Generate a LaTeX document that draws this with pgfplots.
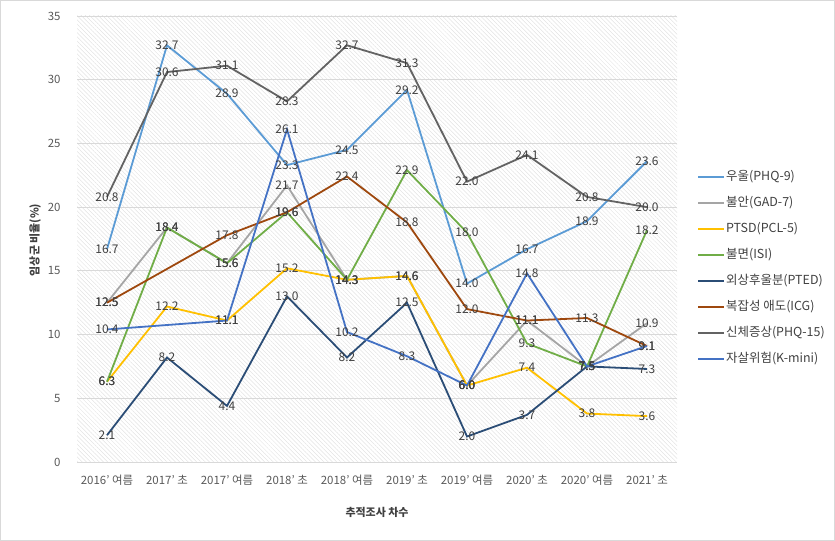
\documentclass[border=0pt]{standalone}
\usepackage{pgfplots}
\pgfplotsset{compat=1.18}
\usepackage{fontspec}
\setmainfont{Noto Sans CJK KR}
\usetikzlibrary{patterns.meta}

\definecolor{cDep}{HTML}{5B9BD5}
\definecolor{cAnx}{HTML}{A5A5A5}
\definecolor{cPtsd}{HTML}{FFC000}
\definecolor{cIns}{HTML}{70AD47}
\definecolor{cPted}{HTML}{2B4D76}
\definecolor{cIcg}{HTML}{9E480E}
\definecolor{cSom}{HTML}{636363}
\definecolor{cSui}{HTML}{4472C4}
\definecolor{txtdark}{HTML}{404040}
\definecolor{txttick}{HTML}{595959}
\definecolor{gridc}{HTML}{D9D9D9}

\begin{document}
\begin{tikzpicture}[x=1bp,y=1bp]
  \path[use as bounding box] (0,0) rectangle (835,541);
  \draw[gridc, line width=1.2bp] (0.6,0.6) rectangle (834.4,540.4);
  \begin{axis}[
      at={(77bp,79bp)}, anchor=south west,
      scale only axis,
      width=600bp, height=446bp,
      xmin=-0.5, xmax=9.5,
      ymin=0, ymax=35,
      xtick={0,...,9},
      xticklabels={2016' 여름, 2017' 초, 2017' 여름, 2018' 초, 2018' 여름,
                   2019' 초, 2019' 여름, 2020' 초, 2020' 여름, 2021' 초},
      ytick={0,5,...,35},
      axis line style={draw=none},
      major tick length=0pt,
      ymajorgrids,
      grid style={gridc, line width=0.8bp},
      axis background/.style={pattern={Lines[angle=-45, distance=3bp, line width=0.5bp]},
                              pattern color=black!11},
      tick label style={font=\fontsize{11.5}{13}\selectfont, text=txttick},
      xticklabel style={yshift=-10bp},
      yticklabel style={xshift=-13bp},
      /pgf/number format/assume math mode=true,
      ylabel={임상군 비율(\%)},
      xlabel={추적조사 차수},
      label style={font=\bfseries\fontsize{11}{13}\selectfont, text=txtdark},
      ylabel style={at={(axis description cs:-0.07,0.498)}, anchor=center, rotate=0},
      xlabel style={at={(axis description cs:0.5,-0.112)}, anchor=center},
      nodes near coords,
      point meta=y,
      nodes near coords={\pgfmathprintnumber[fixed, fixed zerofill, precision=1]{\pgfplotspointmeta}},
      every node near coord/.style={anchor=center, inner sep=0pt,
                                    font=\fontsize{12}{14}\selectfont, text=txtdark},
      every axis plot/.append style={line width=1.8bp, mark=none},
      legend cell align=left,
      legend image code/.code={\draw[#1, line width=2bp] (0bp,0bp) -- (26bp,0bp);},
      legend style={draw=none, fill=none, at={(1.0333,0.434)}, anchor=west,
                    inner sep=0pt, row sep=12bp,
                    font=\fontsize{12.5}{14}\selectfont, text=txtdark,
                    nodes={inner sep=1bp, text height=9bp, text depth=3bp}},
    ]
    % 우울(PHQ-9)
    \addplot[cDep] coordinates {
      (0,16.7) (1,32.7) (2,28.9) (3,23.3) (4,24.5)
      (5,29.2) (6,14.0) (7,16.7) (8,18.9) (9,23.6)
    };
    \addlegendentry{우울(PHQ-9)}
    % 불안(GAD-7)
    \addplot[cAnx] coordinates {
      (0,12.5) (1,18.4) (2,15.6) (3,21.7) (4,14.3)
      (5,14.6) (6,6.0) (7,11.1) (8,7.5) (9,10.9)
    };
    \addlegendentry{불안(GAD-7)}
    % PTSD(PCL-5)
    \addplot[cPtsd] coordinates {
      (0,6.3) (1,12.2) (2,11.1) (3,15.2) (4,14.3)
      (5,14.6) (6,6.0) (7,7.4) (8,3.8) (9,3.6)
    };
    \addlegendentry{PTSD(PCL-5)}
    % 불면(ISI)
    \addplot[cIns] coordinates {
      (0,6.3) (1,18.4) (2,15.6) (3,19.6) (4,14.3)
      (5,22.9) (6,18.0) (7,9.3) (8,7.5) (9,18.2)
    };
    \addlegendentry{불면(ISI)}
    % 외상후울분(PTED)
    \addplot[cPted] coordinates {
      (0,2.1) (1,8.2) (2,4.4) (3,13.0) (4,8.2)
      (5,12.5) (6,2.0) (7,3.7) (8,7.5) (9,7.3)
    };
    \addlegendentry{외상후울분(PTED)}
    % 복잡성 애도(ICG)
    \addplot[cIcg] coordinates {
      (0,12.5) (2,17.8) (3,19.6) (4,22.4)
      (5,18.8) (6,12.0) (7,11.1) (8,11.3) (9,9.1)
    };
    \addlegendentry{복잡성 애도(ICG)}
    % 신체증상(PHQ-15)
    \addplot[cSom] coordinates {
      (0,20.8) (1,30.6) (2,31.1) (3,28.3) (4,32.7)
      (5,31.3) (6,22.0) (7,24.1) (8,20.8) (9,20.0)
    };
    \addlegendentry{신체증상(PHQ-15)}
    % 자살위험(K-mini)
    \addplot[cSui] coordinates {
      (0,10.4) (2,11.1) (3,26.1) (4,10.2)
      (5,8.3) (6,6.0) (7,14.8) (8,7.5) (9,9.1)
    };
    \addlegendentry{자살위험(K-mini)}
  \end{axis}
\end{tikzpicture}
\end{document}
